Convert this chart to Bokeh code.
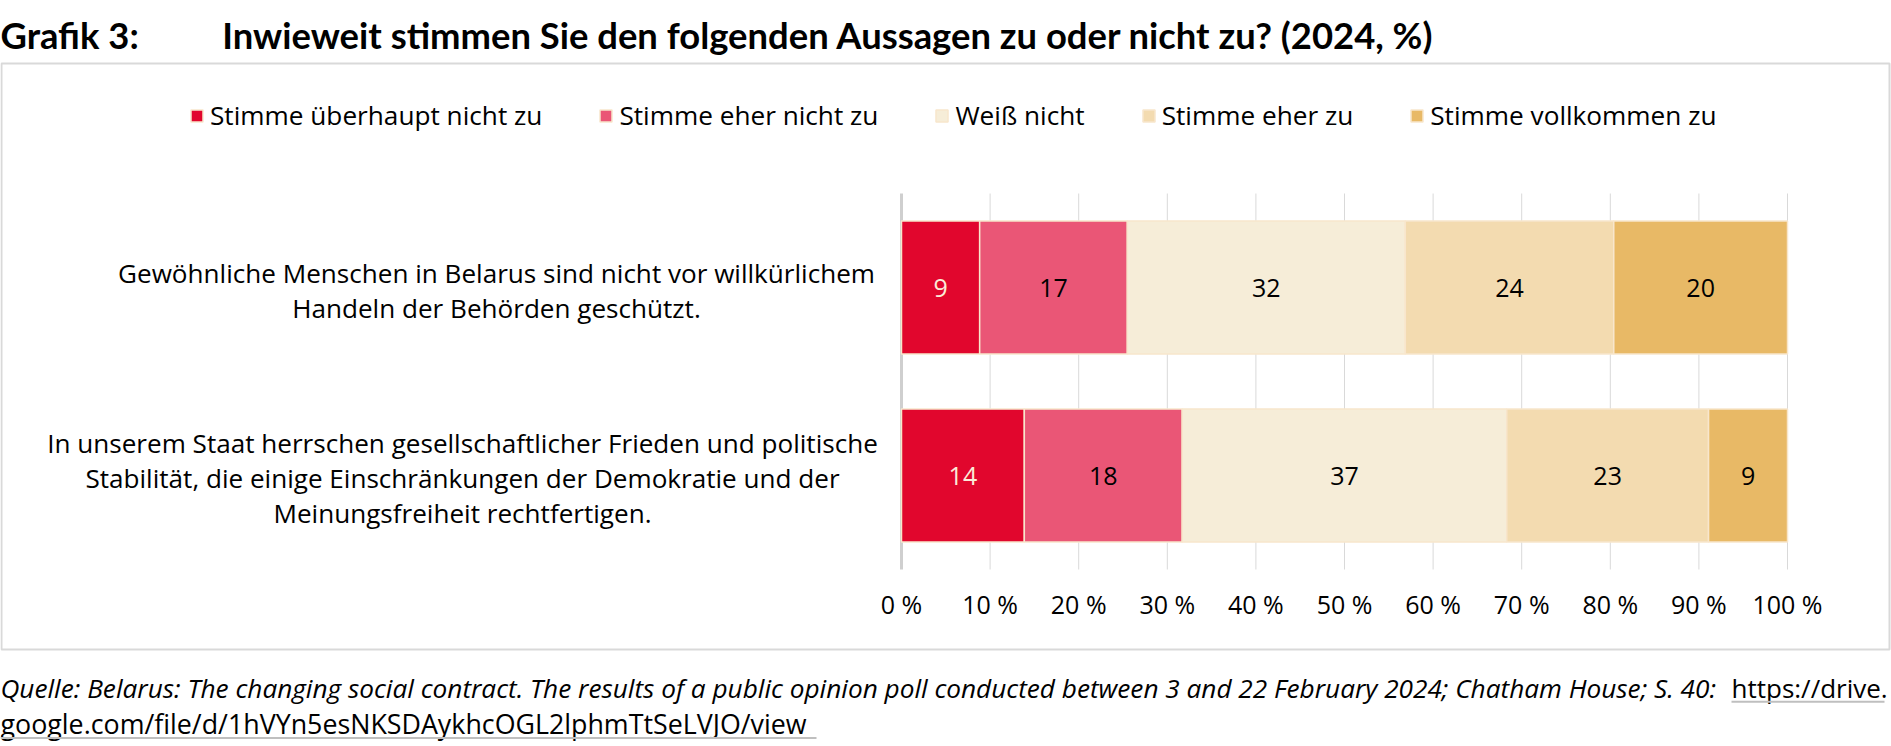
from bokeh.plotting import figure
from bokeh.models import (ColumnDataSource, Range1d, FixedTicker,
                          Label, Legend, LegendItem, BoxAnnotation)
from bokeh.core.properties import value
from bokeh.embed import file_html
from bokeh.resources import INLINE

# ---- data -------------------------------------------------------------
statements = [
    "Gewöhnliche Menschen in Belarus sind nicht vor willkürlichem Handeln der Behörden geschützt.",
    "In unserem Staat herrschen gesellschaftlicher Frieden und politische Stabilität, "
    "die einige Einschränkungen der Demokratie und der Meinungsfreiheit rechtfertigen.",
]
statement_lines = [
    ["Gewöhnliche Menschen in Belarus sind nicht vor willkürlichem",
     "Handeln der Behörden geschützt."],
    ["In unserem Staat herrschen gesellschaftlicher Frieden und politische",
     "Stabilität, die einige Einschränkungen der Demokratie und der",
     "Meinungsfreiheit rechtfertigen."],
]
answers = ["Stimme überhaupt nicht zu", "Stimme eher nicht zu", "Weiß nicht",
           "Stimme eher zu", "Stimme vollkommen zu"]
strongly_disagree = [9, 14]
rather_disagree = [17, 18]
dont_know = [32, 37]
rather_agree = [24, 23]
fully_agree = [20, 9]
tick_values = [0, 10, 20, 30, 40, 50, 60, 70, 80, 90, 100]
tick_labels = ["0 %", "10 %", "20 %", "30 %", "40 %", "50 %", "60 %", "70 %",
               "80 %", "90 %", "100 %"]

title_prefix = "Grafik 3:"
title_text = "Inwieweit stimmen Sie den folgenden Aussagen zu oder nicht zu? (2024, %)"
source_text = ("Quelle: Belarus: The changing social contract. The results of a public opinion "
               "poll conducted between 3 and 22 February 2024; Chatham House; S. 40:")
source_url = ["https://drive.", "google.com/file/d/1hVYn5esNKSDAykhcOGL2lphmTtSeLVJO/view"]

# ---- styling ----------------------------------------------------------
colors = ["#E1062D", "#EA5676", "#F6EDD8", "#F3DBB0", "#E8B966"]
value_colors = ["#FBEBD8", "#000000", "#000000", "#000000", "#000000"]
FONT = "Open Sans"
TITLE_FONT = "Lato"

# ---- page geometry (canvas pixels, measured from the top-left) ---------
W, H = 1891, 746
PX_0, PX_100 = 901, 1787          # where 0 % and 100 % fall
PX_ROW0, ROW_STEP = 287, 188      # centre of the first row, row pitch
X_PER_PX = 100 / (PX_100 - PX_0)
LIFT = 6                          # raise free-standing text lines onto their baselines


def dx(px):
    """canvas x -> data x (percent)"""
    return (px - PX_0) * X_PER_PX


def dy(py):
    """canvas y -> data y (row index, growing downwards)"""
    return (py - PX_ROW0) / ROW_STEP


rows = list(range(len(statements)))

# ---- each row is shown as a 100 % stacked bar ---------------------------
series = [strongly_disagree, rather_disagree, dont_know, rather_agree, fully_agree]
keys = ["s0", "s1", "s2", "s3", "s4"]
totals = [sum(col) for col in zip(*series)]
data = {"row": rows, "statement": statements}
for k, s in zip(keys, series):
    data[k] = [v / t * 100 for v, t in zip(s, totals)]
src = ColumnDataSource(data)

p = figure(width=W, height=H, title=None,
           x_range=Range1d(dx(0), dx(W)),
           y_range=Range1d(dy(H), dy(0)),
           output_backend="svg", toolbar_location=None, min_border=0)
p.outline_line_color = None
p.background_fill_color = "white"
p.border_fill_color = "white"

# grid lines over the plotting band only
band_top, band_bottom = rows[0] - 0.5, rows[-1] + 0.5
p.segment(x0=tick_values[1:], x1=tick_values[1:],
          y0=[band_top] * (len(tick_values) - 1), y1=[band_bottom] * (len(tick_values) - 1),
          line_color="#D9D9D9", line_width=1)
p.segment(x0=[0], x1=[0], y0=[band_top], y1=[band_bottom],
          line_color="#CFCFCF", line_width=3)

renderers = p.hbar_stack(keys, y="row", height=0.707, source=src,
                         fill_color=colors, line_color="#F8E6CC", line_width=1.5)

# value labels in the segment centres
lx, ly, lt, lc = [], [], [], []
for i in rows:
    left = 0.0
    for j, k in enumerate(keys):
        w = data[k][i]
        lx.append(left + w / 2)
        ly.append(i)
        lt.append(str(series[j][i]))
        lc.append(value_colors[j])
        left += w
p.text(x="x", y="y", text="text", text_color="color",
       source=ColumnDataSource(dict(x=lx, y=ly, text=lt, color=lc)),
       text_align="center", text_baseline="middle",
       text_font=value(FONT), text_font_size="25px")

# axes
p.yaxis.visible = False
p.xgrid.grid_line_color = None
p.ygrid.grid_line_color = None
ax = p.xaxis[0]
ax.fixed_location = band_bottom
ax.ticker = FixedTicker(ticks=tick_values)
ax.major_label_overrides = dict(zip(tick_values, tick_labels))
ax.axis_line_color = None
ax.major_tick_line_color = None
ax.minor_tick_line_color = None
ax.major_label_standoff = 11
ax.major_label_text_font = FONT
ax.major_label_text_font_size = "25px"
ax.major_label_text_color = "black"

# statement labels, each line centred within its block
label_center_x = [496, 462]
for i, (lines, cx) in enumerate(zip(statement_lines, label_center_x)):
    n = len(lines)
    for k, line in enumerate(lines):
        base = i + ((k - (n - 1) / 2) * 35 + 8.5 - LIFT) / ROW_STEP
        p.add_layout(Label(x=dx(cx), y=base, text=line, text_align="center",
                           text_baseline="alphabetic", text_font=FONT,
                           text_font_size="26.1px", text_color="black"))

# legend
legend = Legend(items=[LegendItem(label=a, renderers=[r]) for a, r in zip(answers, renderers)],
                orientation="horizontal", location=(189, H - 133),
                glyph_width=15, glyph_height=15, label_standoff=6, spacing=56,
                padding=0, margin=0, border_line_color=None, background_fill_alpha=0,
                label_text_font=FONT, label_text_font_size="26.2px", label_text_color="black")
p.add_layout(legend)

# title
for txt, px in [(title_prefix, 0), (title_text, 221.7)]:
    p.add_layout(Label(x=dx(px), y=dy(40.7 - LIFT), text=txt, text_font=TITLE_FONT,
                       text_font_style="bold", text_font_size="36.4px",
                       text_color="black", text_baseline="alphabetic"))

# frame around the chart body
p.add_layout(BoxAnnotation(left=dx(1), right=dx(1889), top=dy(63), bottom=dy(649),
                           fill_alpha=0, line_color="#808080", line_width=2))

# source note
p.add_layout(Label(x=dx(0), y=dy(693 - LIFT), text=source_text, text_font=FONT,
                   text_font_style="italic", text_font_size="26.2px",
                   text_color="black", text_baseline="alphabetic"))
p.add_layout(Label(x=dx(1731), y=dy(693 - LIFT), text=source_url[0], text_font=FONT,
                   text_font_size="26px", text_color="black", text_baseline="alphabetic"))
p.add_layout(Label(x=dx(0), y=dy(728.5 - LIFT), text=source_url[1], text_font=FONT,
                   text_font_size="26.8px", text_color="black", text_baseline="alphabetic"))
for l, r, yy in [(1731, 1884, 701.3), (0, 816, 737.5)]:
    p.add_layout(BoxAnnotation(left=dx(l), right=dx(r), top=dy(yy - 1), bottom=dy(yy + 1),
                               fill_color="#BFBFBF", fill_alpha=1, line_color=None))

open("out.html", "w").write(file_html(p, INLINE))
